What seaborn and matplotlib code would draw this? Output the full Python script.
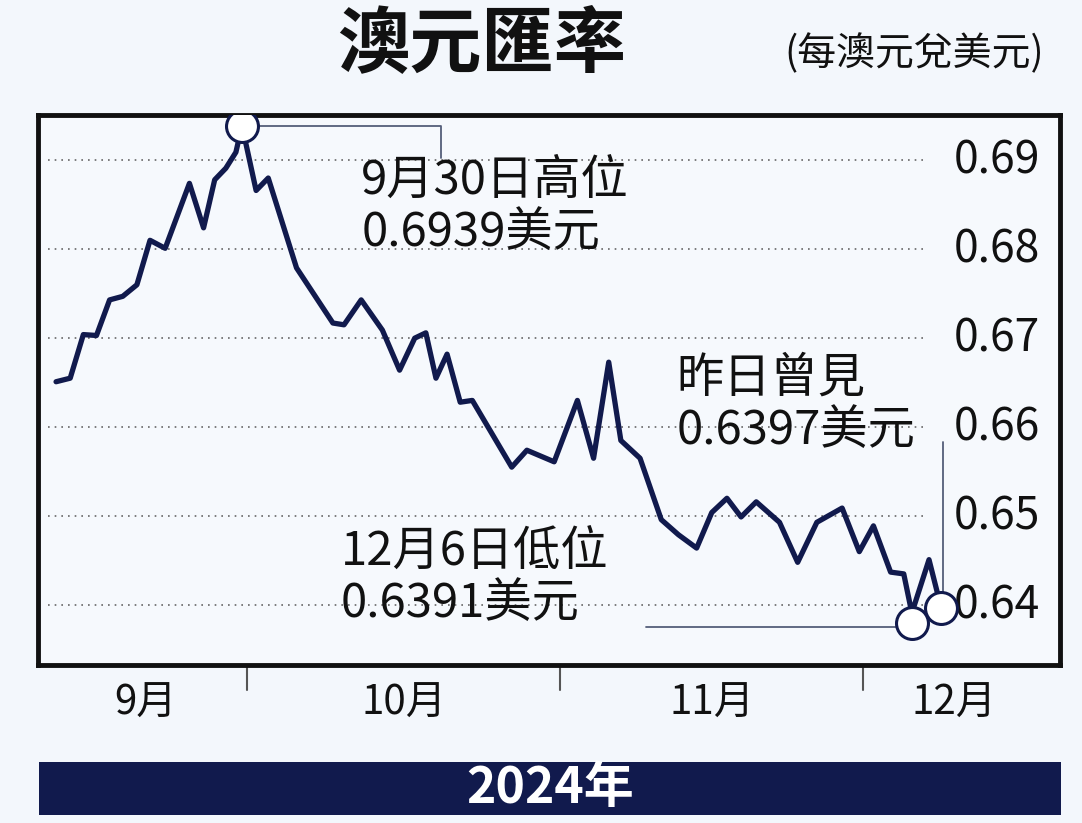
import matplotlib
matplotlib.use("Agg")
import matplotlib.pyplot as plt
import seaborn as sns
import pandas as pd

# day index counted from 1 Sep 2024 (Oct 1 = 30, Nov 1 = 61, Dec 1 = 91)
days = [11.1, 12.5, 13.8, 15.1, 16.4, 17.7, 19.1, 20.4, 21.9, 24.3, 25.7, 26.8, 27.9, 28.9,
        29.5, 30.9, 32.1, 34.9, 38.5, 39.6, 41.3, 43.4, 45.1, 46.6, 47.7, 48.7, 49.8, 51.1,
        52.3, 56.2, 57.7, 60.4, 62.7, 64.3, 65.8, 67.0, 68.9, 71.0, 72.7, 74.5, 76.0, 77.5,
        78.9, 80.4, 82.7, 84.5, 86.4, 88.9, 90.6, 92.0, 93.7, 95.0, 95.8, 97.5, 98.7]
rate = [0.6651, 0.6655, 0.6704, 0.6703, 0.6743, 0.6747, 0.6760, 0.6810, 0.6801, 0.6874,
        0.6824, 0.6878, 0.6891, 0.6909, 0.6939, 0.6866, 0.6880, 0.6779, 0.6717, 0.6715,
        0.6743, 0.6709, 0.6664, 0.6700, 0.6706, 0.6655, 0.6682, 0.6628, 0.6630, 0.6555,
        0.6574, 0.6561, 0.6630, 0.6565, 0.6673, 0.6585, 0.6565, 0.6496, 0.6479, 0.6464,
        0.6504, 0.6520, 0.6499, 0.6516, 0.6493, 0.6448, 0.6493, 0.6509, 0.6460, 0.6489,
        0.6437, 0.6435, 0.6391, 0.6451, 0.6397]
yticks = [0.64, 0.65, 0.66, 0.67, 0.68, 0.69]
month_labels = ["9月", "10月", "11月", "12月"]
month_centers = [20, 45.5, 76, 100]
month_bounds = [30, 61, 91]

df = pd.DataFrame({"day": days, "rate": rate})

sns.set_theme(style="white")
plt.rcParams['font.family'] = ['Noto Sans CJK TC', 'DejaVu Sans']
navy = "#111a4d"
bg = "#f3f7fc"

fig = plt.figure(figsize=(10.82, 8.23), dpi=100, facecolor=bg)
ax = fig.add_axes([0.035, 0.192, 0.945, 0.668], facecolor="#f6f9fd")
x0, x1 = 9.3, 110.5
ax.set_xlim(x0, x1)
ax.set_ylim(0.63326, 0.69506)

for v in yticks:
    ax.plot([x0 + 1, 97], [v, v], ls=(0, (1, 3)), color="#666666", lw=1.2, zorder=1)
    ax.text(104.2, v, f"{v:.2f}", fontsize=32, va="center", ha="center", color="#111111")

sns.lineplot(data=df, x="day", y="rate", ax=ax, color=navy, lw=3.8, zorder=3)

# callout lines
ax.plot([29.5, 49.2, 49.2], [0.6939, 0.6939, 0.6902], color="#555e7a", lw=1.3, zorder=2)
ax.plot([69.5, 95.8], [0.6375, 0.6375], color="#555e7a", lw=1.3, zorder=2)
ax.plot([98.9, 98.9], [0.6397, 0.6583], color="#555e7a", lw=1.3, zorder=2)

for (d, r) in [(29.5, 0.6939), (95.8, 0.6380), (98.7, 0.6397)]:
    ax.plot(d, r, "o", ms=23, mfc="white", mec=navy, mew=2.2, zorder=4)

ax.text(41.3, 0.6848, "9月30日高位\n0.6939美元", fontsize=34, linespacing=1.1,
        va="center", ha="left", color="#111111")
ax.text(72.5, 0.6625, "昨日曾見\n0.6397美元", fontsize=34, linespacing=1.1,
        va="center", ha="left", color="#111111")
ax.text(39.3, 0.6431, "12月6日低位\n0.6391美元", fontsize=34, linespacing=1.1,
        va="center", ha="left", color="#111111")

ax.set_xticks([])
ax.set_yticks([])
ax.set_xlabel("")
ax.set_ylabel("")
for s in ax.spines.values():
    s.set_linewidth(3.5)
    s.set_color("#111111")

for b in month_bounds:
    ax.plot([b, b], [0.63326, 0.6305], color="#555555", lw=1.5, clip_on=False)
for c, lab in zip(month_centers, month_labels):
    ax.text(c, 0.6290, lab, fontsize=29, ha="center", va="center", color="#111111")

fig.text(0.445, 0.945, "澳元匯率", fontsize=52, fontweight="bold", ha="center", va="center",
         color="#111111")
fig.text(0.845, 0.935, "(每澳元兌美元)", fontsize=28, ha="center", va="center", color="#111111")

band = fig.add_axes([0.036, 0.01, 0.945, 0.064], facecolor=navy)
band.set_xticks([])
band.set_yticks([])
for s in band.spines.values():
    s.set_visible(False)
band.text(0.5, 0.5, "2024年", fontsize=36, fontweight="bold", color="white",
          ha="center", va="center", transform=band.transAxes)

fig.savefig("out.png", dpi=100, facecolor=bg)
